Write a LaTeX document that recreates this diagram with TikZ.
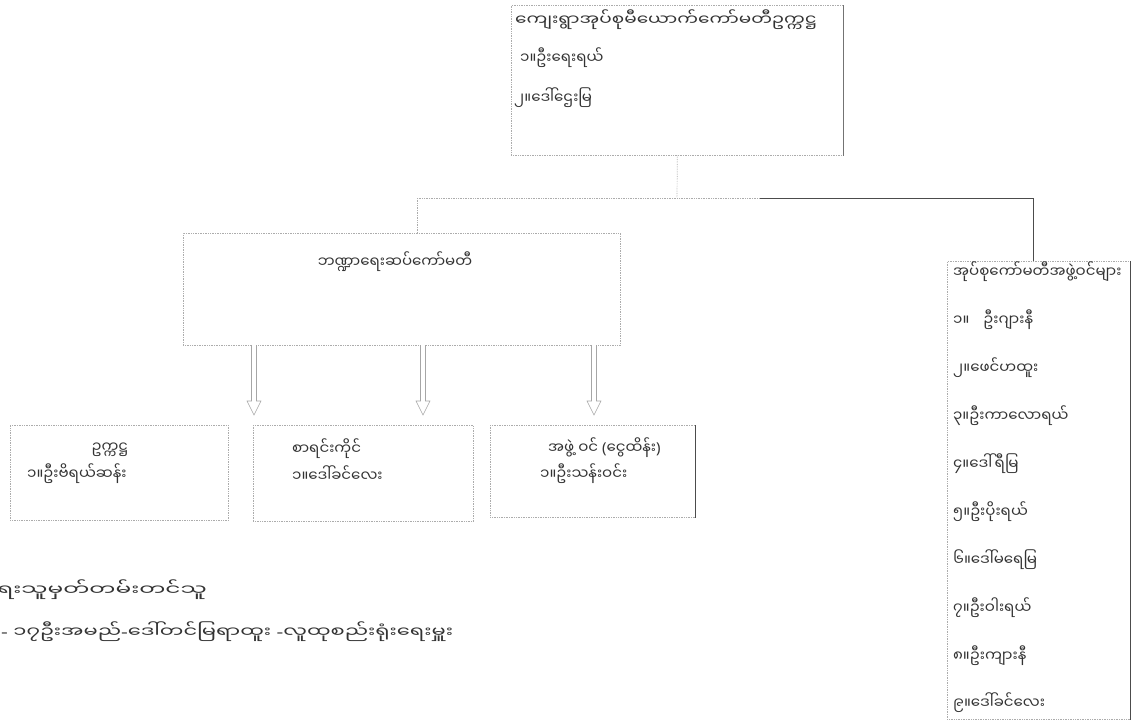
\documentclass[tikz,border=0pt]{standalone}
\usepackage{fontspec}
\usepackage{graphicx}
\usetikzlibrary{calc}
\newfontfamily\my[Script=Myanmar]{Noto Sans Myanmar UI}
\newfontfamily\lat{Noto Sans}
\newcommand\lp{{\lat (}}
\newcommand\rp{{\lat )}}
\newcommand\hy{{\lat -}}
\begin{document}
\begin{tikzpicture}[x=1pt,y=-1pt,
  box/.style={draw=gray!65, line width=0.7pt, densely dotted, inner sep=0pt},
  txt/.style={font=\my\fontsize{15}{17}\selectfont, inner sep=0pt, anchor=west, text=black!80},
  con/.style={draw=gray!65, line width=0.7pt, densely dotted},
  dark/.style={draw=black!70, line width=1pt},
  harrow/.style={draw=gray!70, line width=0.6pt, fill=white}]
\useasboundingbox (0,0) rectangle (1146,723);
\clip (0,0) rectangle (1146,723);
% boxes
\node[box, anchor=north west, minimum width=332pt, minimum height=150pt] (top) at (511,5) {};
\node[box, anchor=north west, minimum width=437pt, minimum height=112pt] (mid) at (183,233) {};
\node[box, anchor=north west, minimum width=183pt, minimum height=458pt] (right) at (947,261) {};
\node[box, anchor=north west, minimum width=218pt, minimum height=95pt] (b1) at (10,425) {};
\node[box, anchor=north west, minimum width=220pt, minimum height=96pt] (b2) at (253,425) {};
\node[box, anchor=north west, minimum width=205pt, minimum height=92pt] (b3) at (490,425) {};
\draw[dark] (right.north east) -- (right.south east);
\draw[dark] (b3.north east) -- (b3.south east);
\draw[draw=black!55, line width=0.8pt] (top.north east) -- (top.south east);
% top texts
\node[txt] (tt1) at (515,20) {\scalebox{1.23}[1]{ကျေးရွာအုပ်စုမီယောက်ကော်မတီဥက္ကဋ္ဌ}};
\node[txt] (tt2) at (520,58) {၁။ဦးရေးရယ်};
\node[txt] (tt3) at (514,98) {၂။ဒေါ်ဌေးမြ};
% middle
\node[txt, anchor=center] (mt) at (395,262) {ဘဏ္ဍာရေးဆပ်ကော်မတီ};
% bottom boxes
\node[txt, anchor=center] (b1t) at (110,450) {ဥက္ကဋ္ဌ};
\node[txt] (b1a) at (27,474) {၁။ဦးဗိရယ်ဆန်း};
\node[txt] (b2t) at (292,449) {စာရင်းကိုင်};
\node[txt] (b2a) at (292,474) {၁။ဒေါ်ခင်လေး};
\node[txt] (b3t) at (548,448) {အဖွဲ့ ဝင် \lp ငွေထိန်း\rp};
\node[txt] (b3a) at (540,474) {၁။ဦးသန်းဝင်း};
% right box list
\node[txt] (r0) at (953,272) {အုပ်စုကော်မတီအဖွဲ့ဝင်များ};
\node[txt] (r1) at (953,320) {၁။\hspace{14pt}ဦးဂျားနီ};
\node[txt] (r2) at (953,368) {၂။ဖေင်ဟထူး};
\node[txt] (r3) at (953,416) {၃။ဦးကာလောရယ်};
\node[txt] (r4) at (953,464) {၄။ဒေါ်ရီမြ};
\node[txt] (r5) at (953,512) {၅။ဦးပိုးရယ်};
\node[txt] (r6) at (953,560) {၆။ဒေါ်မရေမြ};
\node[txt] (r7) at (953,608) {၇။ဦးဝါးရယ်};
\node[txt] (r8) at (953,656) {၈။ဦးကျားနီ};
\node[txt] (r9) at (953,703) {၉။ဒေါ်ခင်လေး};
% notes
\node[txt, anchor=east] (n1) at (207,590) {\scalebox{1.55}[1]{ရေးသူမှတ်တမ်းတင်သူ}};
\node[txt] (n2) at (1,632) {\scalebox{1.4}[1]{\hy\ ၁၇ဦးအမည်\hy ဒေါ်တင်မြရာထူး \hy လူထုစည်းရုံးရေးမှူး}};
% connectors
\coordinate (j) at (677,198);
\coordinate (jl) at (417,198);
\coordinate (jm) at (760,198);
\coordinate (jr) at (1033,198);
\draw[con] (top.south) -- (j);
\draw[con] (jl) -- (jm);
\draw[dark] (jm) -- (jr) -- (jr |- right.north);
\draw[con] (jl) -- (jl |- mid.north);
% hollow arrows
\newcommand\harr[2]{\draw[harrow] ($(#1)+(-2.5,0)$) -- ($(#2)+(-2.5,-14)$) -- ($(#2)+(-7,-14)$) -- (#2) -- ($(#2)+(7,-14)$) -- ($(#2)+(2.5,-14)$) -- ($(#1)+(2.5,0)$);}
\coordinate (a1s) at (254,345); \coordinate (a1e) at (254,415);
\coordinate (a2s) at (423,345); \coordinate (a2e) at (423,415);
\coordinate (a3s) at (594,345); \coordinate (a3e) at (594,415);
\harr{a1s}{a1e}
\harr{a2s}{a2e}
\harr{a3s}{a3e}
\end{tikzpicture}
\end{document}
